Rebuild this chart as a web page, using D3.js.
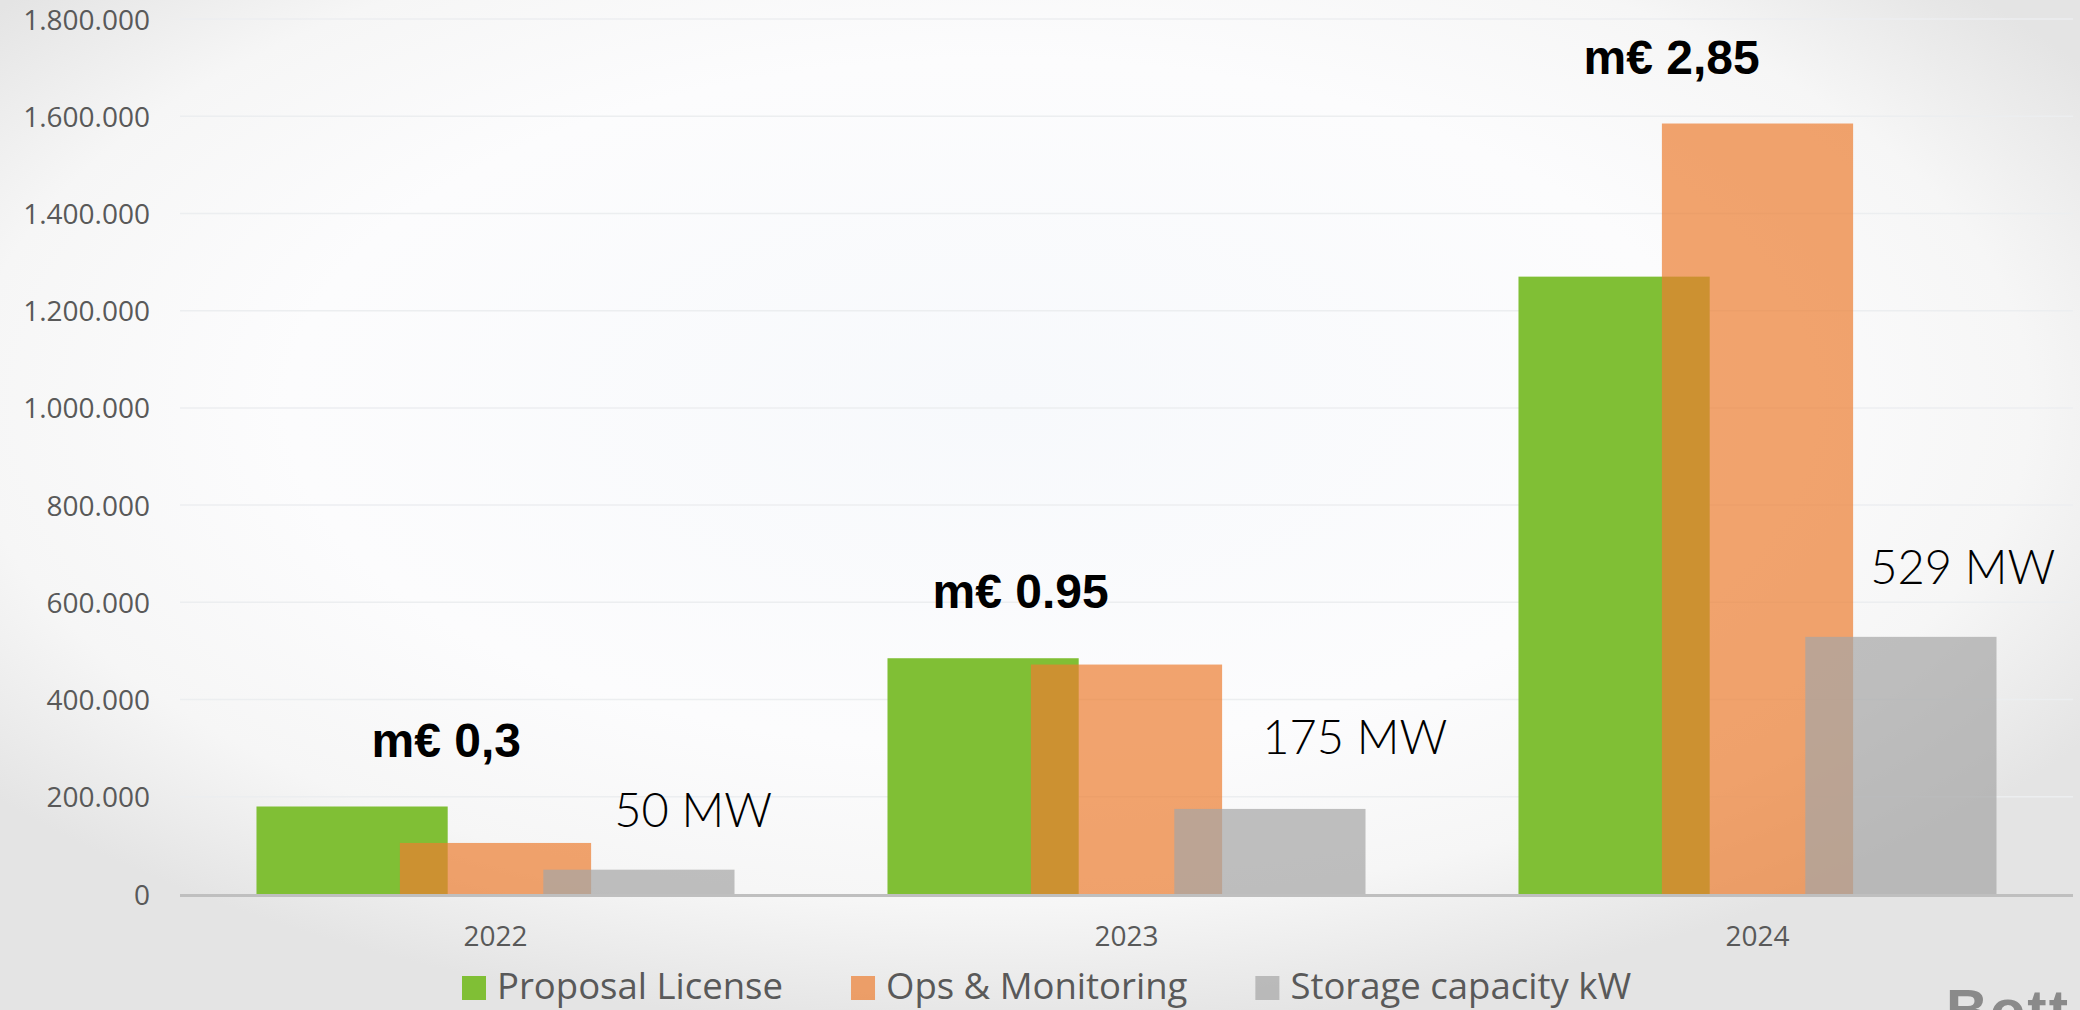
<!DOCTYPE html>
<html>
<head>
<meta charset="utf-8">
<script src="https://cdn.jsdelivr.net/npm/d3@7"></script>
<style>
  html, body { margin: 0; padding: 0; background: #fff; overflow: hidden; }
  .tick text { font-family: "Open Sans", sans-serif; fill: #595959; }
  .legend text { font-family: "Open Sans", sans-serif; fill: #595959; font-size: 36.5px; }
  .cost { font-family: "Liberation Sans", Arial, sans-serif; font-weight: bold; font-size: 48px; fill: #000; }
  .mw { font-family: "Lato", sans-serif; font-weight: 300; font-size: 47px; fill: #000; }
</style>
</head>
<body>
<svg id="chart" width="2080" height="1010"></svg>
<script>
// data
var years = ["2022", "2023", "2024"];
var series = ["Proposal License", "Ops & Monitoring", "Storage capacity kW"];
var proposal = [180000, 485000, 1270000];
var ops = [105000, 472000, 1585000];
var storage = [50000, 175000, 529000];
var costLabels = ["m€ 0,3", "m€ 0.95", "m€ 2,85"];
var mwLabels = ["50 MW", "175 MW", "529 MW"];
var yTicks = [0, 200000, 400000, 600000, 800000, 1000000, 1200000, 1400000, 1600000, 1800000];

var svg = d3.select("#chart"),
    width = +svg.attr("width"),
    height = +svg.attr("height");

var colors = ["#80BF35", "#ED7D31", "#A5A5A5"],
    opac = [1, 0.7, 0.7];

// background: soft radial vignette
var defs = svg.append("defs");
var grad = defs.append("radialGradient")
  .attr("id", "bg")
  .attr("cx", "48%").attr("cy", "40%").attr("r", "62%");
grad.append("stop").attr("offset", "0%").attr("stop-color", "#F7F9FC");
grad.append("stop").attr("offset", "55%").attr("stop-color", "#FCFCFD");
grad.append("stop").attr("offset", "80%").attr("stop-color", "#F6F6F6");
grad.append("stop").attr("offset", "100%").attr("stop-color", "#E4E4E4");
svg.append("rect").attr("width", width).attr("height", height).attr("fill", "url(#bg)");

var plot = {left: 180, right: 2073, top: 19, bottom: 894};

var x = d3.scaleBand().domain(years).range([plot.left, plot.right]).padding(0);
var y = d3.scaleLinear().domain([0, 1800000]).range([plot.bottom, plot.top]);

var nl = d3.formatLocale({decimal: ",", thousands: ".", grouping: [3], currency: ["€", ""]});
var fmt = nl.format(",d");

// bar geometry like excel: overlap 25%, gap width 80%
var barW = x.bandwidth() / 3.3,
    step = barW * 0.75,
    groupPad = barW * 0.4;
function barX(year, s) { return x(year) + groupPad + s * step; }

// gridlines
svg.append("g")
  .selectAll("line")
  .data(yTicks.slice(1))
  .enter().append("line")
    .attr("x1", plot.left)
    .attr("x2", plot.right)
    .attr("y1", function(d) { return y(d); })
    .attr("y2", function(d) { return y(d); })
    .attr("stroke", "#ECEEF0")
    .attr("stroke-width", 1.5);

// y axis labels
var yAxis = svg.append("g")
  .attr("transform", "translate(150,0)")
  .call(d3.axisLeft(y).tickValues(yTicks).tickFormat(fmt).tickSize(0).tickPadding(0));
yAxis.select(".domain").remove();
yAxis.selectAll("text").attr("font-size", 28).attr("dy", "0.36em");

// bars
var seriesData = [proposal, ops, storage];
seriesData.forEach(function(vals, s) {
  svg.append("g")
    .selectAll("rect")
    .data(vals)
    .enter().append("rect")
      .attr("x", function(d, i) { return barX(years[i], s); })
      .attr("y", function(d) { return y(d); })
      .attr("width", barW)
      .attr("height", function(d) { return y(0) - y(d); })
      .attr("fill", colors[s])
      .attr("fill-opacity", opac[s]);
});

// x axis
svg.append("line")
  .attr("x1", plot.left).attr("x2", plot.right)
  .attr("y1", y(0) + 1.5).attr("y2", y(0) + 1.5)
  .attr("stroke", "#BFBFBF").attr("stroke-width", 3);

var xAxis = svg.append("g")
  .attr("transform", "translate(0," + (y(0) + 2) + ")")
  .call(d3.axisBottom(x).tickSize(0).tickPadding(0));
xAxis.select(".domain").remove();
xAxis.selectAll("text").attr("font-size", 28).attr("dy", "1.8em");

// annotations
var costDx = [115, 45, 65];
svg.selectAll(".cost")
  .data(costLabels)
  .enter().append("text")
    .attr("class", "cost")
    .attr("x", function(d, i) { return barX(years[i], 0) + costDx[i]; })
    .attr("y", function(d, i) { return y(Math.max(proposal[i], ops[i])) - 50; })
    .text(function(d) { return d; });

var mwDx = [71, 88, 65], mwDy = [43, 55, 53];
svg.selectAll(".mw")
  .data(mwLabels)
  .enter().append("text")
    .attr("class", "mw")
    .attr("x", function(d, i) { return barX(years[i], 2) + mwDx[i]; })
    .attr("y", function(d, i) { return y(storage[i]) - mwDy[i]; })
    .text(function(d) { return d; });

// legend
var legend = svg.append("g").attr("class", "legend");
var lx = 462;
series.forEach(function(name, s) {
  legend.append("rect")
    .attr("x", lx).attr("y", 976)
    .attr("width", 24).attr("height", 24)
    .attr("fill", colors[s]).attr("fill-opacity", opac[s]);
  var t = legend.append("text")
    .attr("x", lx + 35).attr("y", 999)
    .text(name);
  lx = lx + 35 + t.node().getComputedTextLength() + 68;
});

// logo fragment at bottom right (cut by the slide edge in the original)
svg.append("text")
  .attr("x", 1946).attr("y", 1030)
  .attr("font-family", "Liberation Sans, Arial, sans-serif")
  .attr("font-weight", "bold")
  .attr("font-size", 58)
  .attr("letter-spacing", 2)
  .attr("fill", "#8A8A8A")
  .text("Bott");
</script>
</body>
</html>
